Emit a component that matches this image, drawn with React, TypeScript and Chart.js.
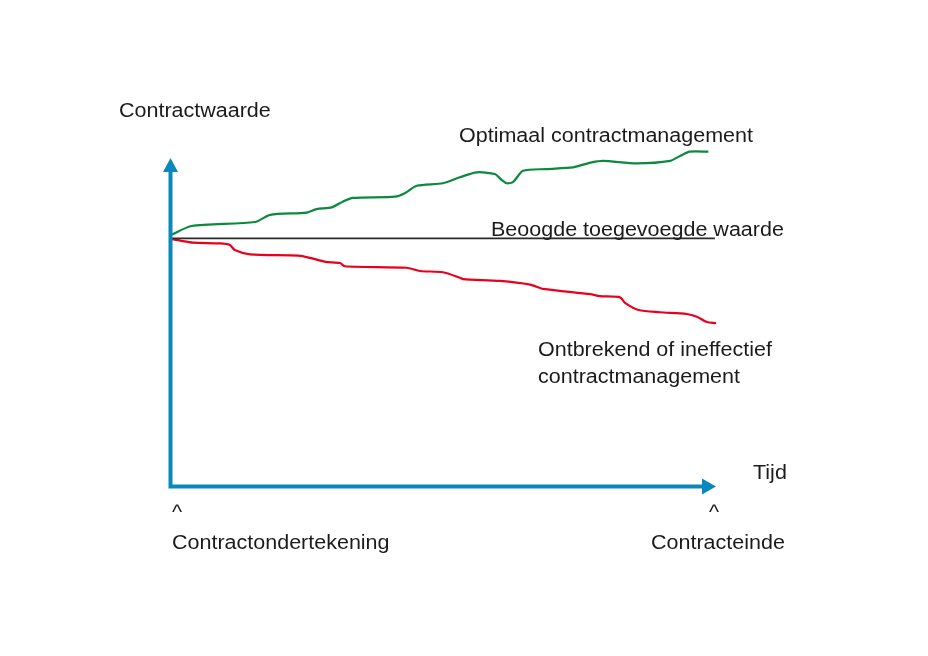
import React, { useEffect, useRef } from "react";
import { Chart, registerables } from "chart.js";

Chart.register(...registerables);

// Time as % of contract duration (0 = signing, 100 = end)
const optimalTime = [0, 3.8, 15.4, 18.2, 24.9, 26.7, 29.5, 31.6, 33.4, 41.1, 42.9, 45.1, 49.9, 53.0, 56.1, 59.4, 60.7, 61.6, 62.8, 64.6, 68.9, 73.8, 75.0, 77.2, 79.3, 85.4, 91.6, 93.4, 95.2, 98.6];
// Contract value index (100 = intended added value)
const optimalValue = [101.4, 105.0, 106.6, 109.5, 110.4, 111.8, 112.5, 114.9, 116.3, 116.8, 118.2, 121.2, 122.2, 124.6, 126.6, 125.9, 123.5, 122.2, 122.8, 127.2, 127.9, 128.6, 129.3, 130.6, 131.2, 130.2, 131.2, 133.2, 134.9, 134.9];

const poorTime = [0, 1.7, 4.0, 9.0, 10.8, 11.7, 14.5, 23.4, 25.5, 28.3, 31.0, 31.9, 43.2, 45.7, 49.9, 53.0, 53.6, 60.4, 65.9, 68.3, 76.9, 78.7, 82.4, 83.3, 85.8, 89.7, 94.6, 96.5, 98.3, 100];
const poorValue = [99.8, 99.1, 98.3, 98.0, 97.4, 95.3, 93.6, 93.1, 92.2, 90.6, 90.1, 88.8, 88.2, 86.9, 86.4, 84.2, 83.6, 82.9, 81.4, 79.7, 77.6, 76.8, 76.3, 74.1, 71.2, 70.3, 69.6, 68.5, 66.4, 65.9];

const targetTime = [0, 99.8];
const targetValue = [100, 100];

const Y_LABEL = "Contractwaarde";
const X_LABEL = "Tijd";
const OPTIMAL_LABEL = "Optimaal contractmanagement";
const TARGET_LABEL = "Beoogde toegevoegde waarde";
const POOR_LABEL = ["Ontbrekend of ineffectief", "contractmanagement"];
const START_LABEL = "Contractondertekening";
const END_LABEL = "Contracteinde";
const TICK_MARK = "^";

const toPoints = (xs: number[], ys: number[]) => xs.map((x, i) => ({ x, y: ys[i] }));

const BLUE = "#0a88bd";
const TEXT = "#1b1b1b";
const FONT = '20px "Liberation Sans", Arial, sans-serif';
const STRETCH = 1.075;

const drawText = (ctx: CanvasRenderingContext2D, text: string, x: number, y: number) => {
  ctx.save();
  ctx.translate(x, y);
  ctx.scale(STRETCH, 1);
  ctx.fillText(text, 0, 0);
  ctx.restore();
};

const overlayPlugin = {
  id: "overlay",
  afterDatasetsDraw(chart: any) {
    const ctx = chart.ctx as CanvasRenderingContext2D;
    const xS = chart.scales.x;
    const yS = chart.scales.y;
    const x0 = xS.getPixelForValue(0) - 0.5;
    const y0 = yS.getPixelForValue(0) - 0.5;
    const yTip = yS.getPixelForValue(132.4);
    const xTip = xS.getPixelForValue(100);
    ctx.save();
    ctx.strokeStyle = BLUE;
    ctx.fillStyle = BLUE;
    ctx.lineWidth = 4;
    ctx.lineCap = "butt";
    ctx.beginPath();
    ctx.moveTo(x0, y0 + 2);
    ctx.lineTo(x0, yTip + 12);
    ctx.moveTo(x0 - 2, y0);
    ctx.lineTo(xTip - 12, y0);
    ctx.stroke();
    // arrowheads
    ctx.beginPath();
    ctx.moveTo(x0, yTip);
    ctx.lineTo(x0 - 7.5, yTip + 14);
    ctx.lineTo(x0 + 7.5, yTip + 14);
    ctx.closePath();
    ctx.fill();
    ctx.beginPath();
    ctx.moveTo(xTip, y0);
    ctx.lineTo(xTip - 14, y0 - 8);
    ctx.lineTo(xTip - 14, y0 + 8);
    ctx.closePath();
    ctx.fill();

    ctx.fillStyle = TEXT;
    ctx.font = FONT;
    ctx.textBaseline = "alphabetic";
    ctx.textAlign = "left";
    drawText(ctx, Y_LABEL, 119, 117);
    drawText(ctx, OPTIMAL_LABEL, 459, 142);
    drawText(ctx, TARGET_LABEL, 491, 236);
    drawText(ctx, POOR_LABEL[0], 538, 356);
    drawText(ctx, POOR_LABEL[1], 538, 383);
    drawText(ctx, X_LABEL, 753, 479);
    drawText(ctx, TICK_MARK, 172, 519);
    drawText(ctx, TICK_MARK, 709, 519);
    drawText(ctx, START_LABEL, 172, 549);
    drawText(ctx, END_LABEL, 651, 549);
    ctx.restore();
  },
};

export default function App() {
  const ref = useRef<HTMLCanvasElement | null>(null);
  useEffect(() => {
    if (!ref.current) return;
    const chart = new Chart(ref.current, {
      type: "line",
      data: {
        datasets: [
          {
            label: TARGET_LABEL,
            data: toPoints(targetTime, targetValue),
            borderColor: "#2a2a2a",
            borderWidth: 1.8,
            pointRadius: 0,
            tension: 0,
          },
          {
            label: POOR_LABEL.join(" "),
            data: toPoints(poorTime, poorValue),
            borderColor: "#e8001c",
            borderWidth: 2.2,
            pointRadius: 0,
            tension: 0.25,
          },
          {
            label: OPTIMAL_LABEL,
            data: toPoints(optimalTime, optimalValue),
            borderColor: "#0a8a3c",
            borderWidth: 2.2,
            pointRadius: 0,
            tension: 0.25,
          },
        ],
      },
      options: {
        animation: false,
        responsive: false,
        devicePixelRatio: 1,
        layout: { padding: { left: 171, right: 212, top: 139, bottom: 169 } },
        scales: {
          x: { type: "linear", min: 0, max: 100, display: false },
          y: { type: "linear", min: 0, max: 140, display: false },
        },
        plugins: { legend: { display: false }, tooltip: { enabled: false } },
        events: [],
      },
      plugins: [overlayPlugin],
    });
    return () => chart.destroy();
  }, []);
  return (
    <div style={{ position: "absolute", left: 0, top: 0, width: 928, height: 656, background: "#fff" }}>
      <canvas ref={ref} width={928} height={656} />
    </div>
  );
}
